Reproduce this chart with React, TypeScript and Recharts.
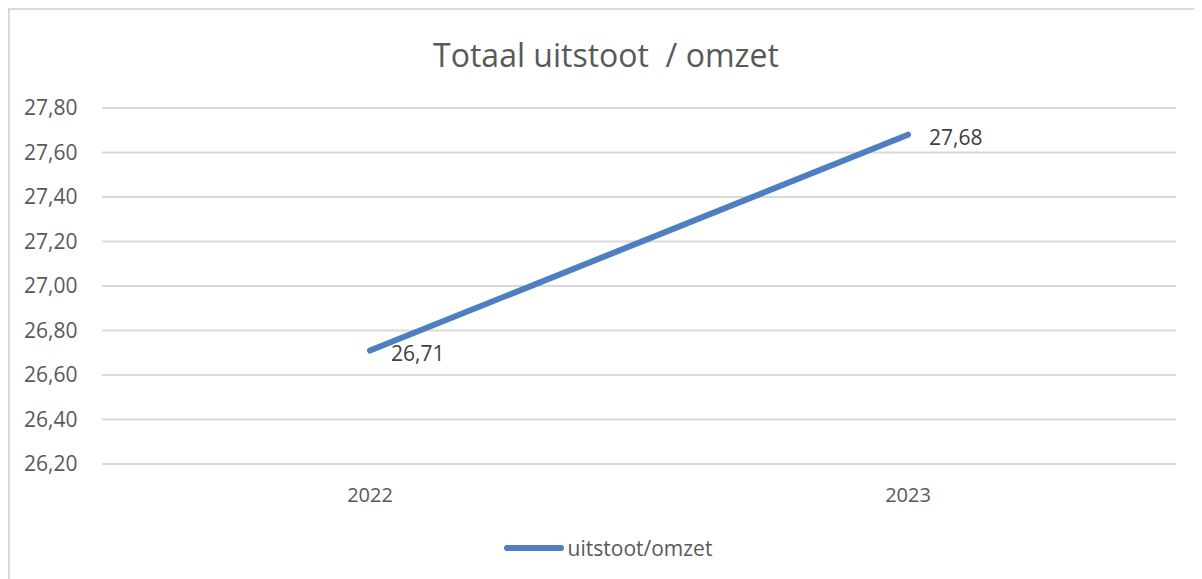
import React from "react";
import { LineChart, Line, XAxis, YAxis, CartesianGrid, Legend, LabelList } from "recharts";

const categories = ["2022", "2023"];
const seriesName = "uitstoot/omzet";
const values = [26.71, 27.68];
const yTicks = [26.2, 26.4, 26.6, 26.8, 27.0, 27.2, 27.4, 27.6, 27.8];
const title = "Totaal uitstoot  / omzet";

const data = categories.map((c, i) => ({ year: c, v: values[i] }));

const FONT = "'Open Sans', 'Noto Sans', sans-serif";
const fmt = (v: number) => v.toFixed(2).replace(".", ",");

const renderLabel = (props: any) => {
  const { x, y, value } = props;
  return (
    <text x={x + 21} y={y + 2} fill="#404040" fontSize={21} fontFamily={FONT} dominantBaseline="central" textAnchor="start">
      {fmt(value)}
    </text>
  );
};

const renderLegend = () => (
  <div style={{ display: "flex", justifyContent: "center", alignItems: "center", fontFamily: FONT, fontSize: 21, color: "#595959", paddingTop: 14, paddingLeft: 30 }}>
    <svg width={60} height={10} style={{ marginRight: 4 }}>
      <line x1={3} y1={5} x2={57} y2={5} stroke="#4e7fc0" strokeWidth={6} strokeLinecap="round" />
    </svg>
    <span>{seriesName}</span>
  </div>
);

export default function App() {
  return (
    <div style={{ width: 1192, height: 569, borderTop: "2px solid #d9d9d9", borderLeft: "2px solid #d9d9d9", position: "relative", background: "#fff" }}>
      <div style={{ position: "absolute", top: 23, left: 0, width: 1192, textAlign: "center", fontFamily: FONT, fontSize: 32, color: "#595959", whiteSpace: "pre" }}>
        {title}
      </div>
      <LineChart width={1192} height={569} data={data} margin={{ top: 98, right: 26, bottom: 15, left: 0 }}>
        <CartesianGrid vertical={false} stroke="#d9d9d9" strokeWidth={2} />
        <XAxis dataKey="year" axisLine={false} tickLine={false} padding={{ left: 268, right: 268 }} tick={{ fill: "#595959", fontSize: 20, fontFamily: FONT }} dy={16} height={56} />
        <YAxis domain={[26.2, 27.8]} ticks={yTicks} tickFormatter={fmt} axisLine={false} tickLine={false} width={92} tick={{ fill: "#595959", fontSize: 21, fontFamily: FONT, textAnchor: "start" }} dx={-70} interval={0} />
        <Legend content={renderLegend} verticalAlign="bottom" height={44} />
        <Line dataKey="v" name={seriesName} stroke="#4e7fc0" strokeWidth={6} strokeLinecap="round" dot={false} isAnimationActive={false}>
          <LabelList dataKey="v" content={renderLabel} />
        </Line>
      </LineChart>
    </div>
  );
}
